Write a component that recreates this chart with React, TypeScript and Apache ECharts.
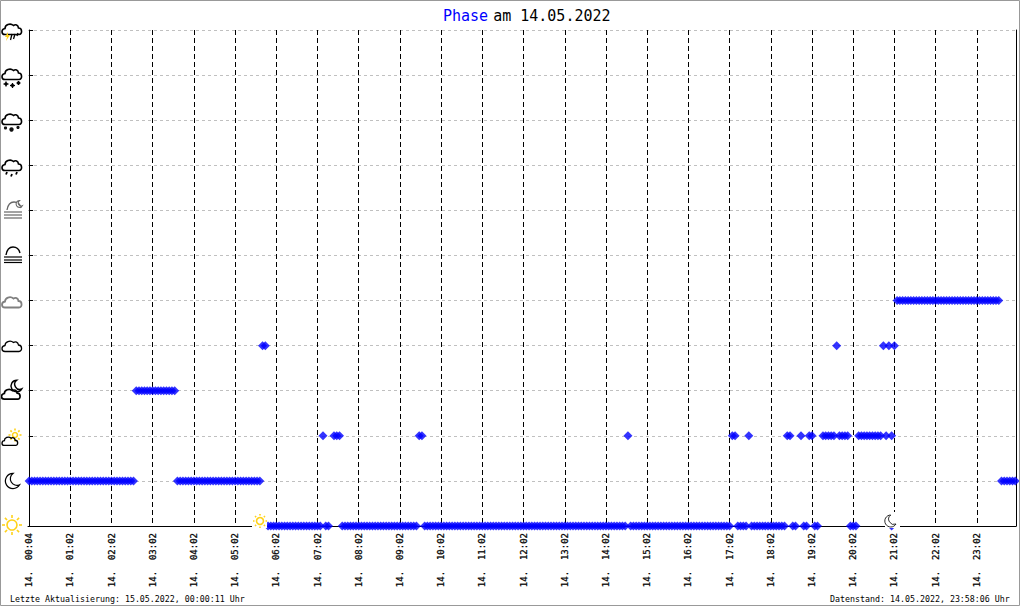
import React, { useEffect, useRef } from "react";
import * as echarts from "echarts";

// Sample index = one reading every 4 minutes from 00:04. Runs are [first, last] readings.
const tickLabels = [
  "14.  00:04", "14.  01:02", "14.  02:02", "14.  03:02", "14.  04:02", "14.  05:02",
  "14.  06:02", "14.  07:02", "14.  08:02", "14.  09:02", "14.  10:02", "14.  11:02",
  "14.  12:02", "14.  13:02", "14.  14:02", "14.  15:02", "14.  16:02", "14.  17:02",
  "14.  18:02", "14.  19:02", "14.  20:02", "14.  21:02", "14.  22:02", "14.  23:02",
];
const samplesPerTick = 15;
const sunRuns = [[87, 106], [108, 109], [114, 141], [144, 217], [219, 255], [258, 261], [263, 275], [278, 279], [282, 283], [286, 287], [299, 301], [314, 314]];
const moonRuns = [[0, 38], [54, 84], [354, 359]];
const sunCloudRuns = [[107, 107], [111, 113], [142, 143], [218, 218], [256, 257], [262, 262], [276, 277], [281, 281], [284, 285], [289, 293], [295, 298], [302, 310], [312, 312], [314, 314]];
const moonCloudRuns = [[39, 53]];
const cloudRuns = [[85, 86], [294, 294], [311, 311], [313, 313], [315, 315]];
const overcastRuns = [[316, 353]];
const phaseRuns: [number, number[][]][] = [
  [0, sunRuns], [1, moonRuns], [2, sunCloudRuns], [3, moonCloudRuns], [4, cloudRuns], [5, overcastRuns],
];

const CLOUD = "M-7 5.5 C-11 5.5 -11 0 -7 -0.5 C-7 -4 -2 -6.5 1.5 -3.5 C3.5 -5 6 -4 6.5 -1 C10.5 -1 10.5 5.5 7 5.5 Z";
const MOON = "M1 -8 A8 8 0 1 0 8 4 A7 7 0 0 1 1 -8 Z";
const FOGARC = "M-7 3 C-6 -3 -3 -5 0 -5 C3 -5 6 -3 7 1";
echarts.graphic.registerShape("wxCloud", echarts.graphic.extendPath(CLOUD, {}));
echarts.graphic.registerShape("wxMoon", echarts.graphic.extendPath(MOON, {}));
echarts.graphic.registerShape("wxArc", echarts.graphic.extendPath(FOGARC, {}));

const FONT = "'DejaVu Sans Mono', monospace";
const YEL = "#FFD21A";

function cloud(x: number, y: number, color = "#000", lw = 1.6, s = 1) {
  return { type: "wxCloud", x, y, scaleX: s, scaleY: s, z: 11, style: { fill: "transparent", stroke: color, lineWidth: lw } };
}
function moon(x: number, y: number, s = 1, lw = 1.3) {
  return { type: "wxMoon", x, y, scaleX: s, scaleY: s, z: 11, style: { fill: "#fff", stroke: "#000", lineWidth: lw } };
}
function dot(x: number, y: number, r = 1.6, color = "#111") {
  return { type: "circle", z: 11, shape: { cx: x, cy: y, r }, style: { fill: color } };
}
function seg(x1: number, y1: number, x2: number, y2: number, color = "#000", lw = 1.3) {
  return { type: "line", z: 11, shape: { x1, y1, x2, y2 }, style: { stroke: color, lineWidth: lw } };
}
function sun(x: number, y: number, r: number, ray: number) {
  const out: any[] = [{ type: "circle", z: 11, shape: { cx: x, cy: y, r }, style: { fill: "#fff", stroke: YEL, lineWidth: 1.6 } }];
  for (let k = 0; k < 8; k++) {
    const a = (k * Math.PI) / 4;
    out.push(seg(x + Math.cos(a) * (r + 2), y + Math.sin(a) * (r + 2), x + Math.cos(a) * ray, y + Math.sin(a) * ray, YEL, 1.6));
  }
  return out;
}
function fogLines(ys: number[], color: string) {
  return ys.map((y) => seg(4, y, 22, y, color, 1.2));
}

const icons: any[] = [
  cloud(12, 29),
  { type: "polygon", z: 11, shape: { points: [[8, 32], [5, 37], [7, 37], [6, 41], [10, 35], [8, 35]] }, style: { fill: YEL } },
  seg(12, 34, 10.5, 40), seg(15, 34, 13.5, 39), seg(18, 33, 17, 36),
  cloud(12, 74),
  dot(6, 84), dot(12.5, 85.5), dot(18.5, 83), seg(3.5, 84, 8.5, 84), seg(6, 81.5, 6, 86.5), seg(10, 85.5, 15, 85.5), seg(12.5, 83, 12.5, 88), seg(16.5, 83, 20.5, 83), seg(18.5, 81, 18.5, 85),
  cloud(12, 119),
  dot(5.5, 128), dot(11.5, 129.5, 2.2), dot(18, 127.5),
  cloud(12, 165),
  seg(7, 172, 6, 174.5, "#000", 1.8), seg(12, 174, 11, 176.5, "#000", 1.8), seg(17, 172, 16, 174.5, "#000", 1.8),
  { type: "wxArc", x: 14, y: 207, z: 11, style: { fill: "transparent", stroke: "#666", lineWidth: 1.3 } },
  { type: "wxMoon", x: 19, y: 204, scaleX: 0.42, scaleY: 0.42, z: 11, style: { fill: "#fff", stroke: "#666", lineWidth: 2.5 } },
  ...fogLines([212, 215, 218], "#666"),
  { type: "wxArc", x: 13, y: 252, z: 11, style: { fill: "transparent", stroke: "#000", lineWidth: 1.4 } },
  ...fogLines([257, 260, 262.5], "#000"),
  cloud(12, 302, "#808080", 1.8),
  cloud(12, 346, "#000", 1.3),
  moon(16, 386, 0.72, 2),
  cloud(11, 394, "#000", 1.8, 0.95),
  ...sun(15, 435, 2.5, 6.5),
  cloud(10, 441, "#000", 1.7, 0.8),
  moon(12, 481, 0.95),
  ...sun(12, 525, 5, 10),
  { type: "rect", z: 10, shape: { x: 252, y: 513, width: 15, height: 15 }, style: { fill: "#fff" } },
  ...sun(260, 521, 3.5, 7),
  { type: "rect", z: 10, shape: { x: 885, y: 512, width: 15, height: 16 }, style: { fill: "#fff" } },
  moon(890, 521, 0.75, 1.1),
];

const footer = [
  { type: "text", z: 11, x: 10, y: 599, style: { text: "Letzte Aktualisierung: 15.05.2022, 00:00:11 Uhr", font: `8.3px ${FONT}`, fill: "#000", verticalAlign: "middle" } },
  { type: "text", z: 11, x: 830, y: 599, style: { text: "Datenstand: 14.05.2022, 23:58:06 Uhr", font: `8.3px ${FONT}`, fill: "#000", verticalAlign: "middle" } },
  { type: "rect", z: 11, shape: { x: 0.5, y: 0.5, width: 1019, height: 605 }, style: { fill: "transparent", stroke: "#999", lineWidth: 1 } },
];

export default function App() {
  const ref = useRef<HTMLDivElement>(null);
  useEffect(() => {
    const chart = echarts.init(ref.current!, null, { renderer: "svg" });
    const data: number[][] = [];
    phaseRuns.forEach(([level, runs]) => {
      runs.forEach(([a, b]) => {
        for (let i = a; i <= b; i++) data.push([i, level]);
      });
    });
    const tickValues = tickLabels.map((_, i) => i * samplesPerTick);
    const hidden = { show: false };
    chart.setOption({
      animation: false,
      backgroundColor: "#fff",
      title: {
        left: 438,
        top: 2,
        text: "{b|Phase} {k|am 14.05.2022}",
        textStyle: {
          fontWeight: "normal",
          rich: {
            b: { fontFamily: FONT, fontSize: 15, fontWeight: "normal", color: "#0000ff" },
            k: { fontFamily: FONT, fontSize: 15, fontWeight: "normal", color: "#000" },
          },
        },
      },
      grid: { left: 28, top: 30, width: 988, height: 496, containLabel: false },
      xAxis: {
        type: "value",
        min: -0.4,
        max: 359.27,
        axisLine: { onZero: false, lineStyle: { color: "#000", width: 1 } },
        axisTick: { show: false, customValues: tickValues },
        splitLine: { show: true, lineStyle: { color: "#000", width: 1, type: [5, 3] } },
        axisLabel: {
          customValues: tickValues,
          rotate: 90,
          margin: 7,
          padding: [4, 0, 0, 0],
          color: "#000",
          fontFamily: FONT,
          fontSize: 9,
          textBorderColor: "#000",
          textBorderWidth: 0.25,
          formatter: (v: number) => tickLabels[Math.round(v / samplesPerTick)] ?? "",
        },
      },
      yAxis: [
        {
          type: "value",
          min: 0,
          max: 11,
          interval: 1,
          axisLine: { show: true, lineStyle: { color: "#000", width: 1 } },
          axisTick: { show: true, inside: true, length: 4, lineStyle: { color: "#000" } },
          axisLabel: hidden,
          splitLine: { show: true, lineStyle: { color: "#c0c0c0", width: 1, type: [3, 3] } },
        },
        {
          type: "value",
          position: "right",
          min: 0,
          max: 11,
          interval: 1,
          axisLine: { show: true, lineStyle: { color: "#000", width: 1 } },
          axisTick: hidden,
          axisLabel: hidden,
          splitLine: hidden,
        },
      ],
      series: [
        {
          name: "Phase",
          type: "scatter",
          clip: false,
          symbol: "diamond",
          symbolSize: 9,
          itemStyle: { color: "#0000ff" },
          data,
        },
      ],
      graphic: { elements: [...icons, ...footer] },
    });
    return () => chart.dispose();
  }, []);
  return <div ref={ref} style={{ position: "fixed", left: 0, top: 0, width: 1020, height: 606 }} />;
}
